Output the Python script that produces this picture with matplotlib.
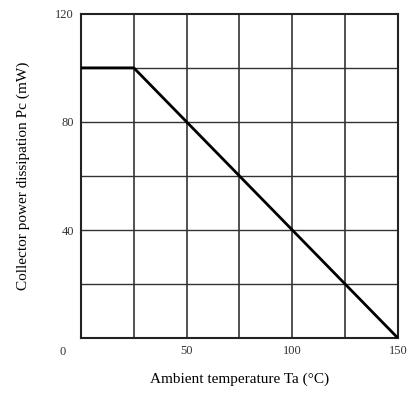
import matplotlib.pyplot as plt

# derating curve of collector power vs ambient temperature
temp = [0, 25, 150]
power = [100, 100, 0]

x_ticks = [0, 50, 100, 150]
y_ticks = [40, 80, 120]
x_grid = [25, 50, 75, 100, 125]
y_grid = [20, 40, 60, 80, 100]

plt.rcParams['font.family'] = ['Liberation Serif', 'DejaVu Serif']

fig = plt.figure(figsize=(4.09, 3.95), dpi=100)
ax = fig.add_axes([0.198, 0.144, 0.775, 0.821])

for gx in x_grid:
    ax.axvline(gx, color='#222222', lw=1.1, zorder=1)
for gy in y_grid:
    ax.axhline(gy, color='#333333', lw=1.0, zorder=1)

ax.plot(temp, power, color='black', lw=2.0, zorder=3)

ax.set_xlim(0, 150)
ax.set_ylim(0, 120)
for s in ax.spines.values():
    s.set_linewidth(1.5)
    s.set_color('#222222')

ax.set_xticks(x_ticks[1:])
ax.set_xticklabels([str(v) for v in x_ticks[1:]], fontsize=9, color='#333333')
ax.set_yticks(y_ticks)
ax.set_yticklabels([str(v) for v in y_ticks], fontsize=9, color='#333333')
ax.tick_params(length=0, pad=5)
ax.text(-7, -3, '0', fontsize=9, color='#333333', ha='right', va='top')

ax.set_xlabel('Ambient temperature Ta (°C)', fontsize=11, labelpad=11)
ax.set_ylabel('Collector power dissipation Pc (mW)', fontsize=11)
ax.yaxis.set_label_coords(-0.16, 0.5)

fig.savefig('out.png', dpi=100)
